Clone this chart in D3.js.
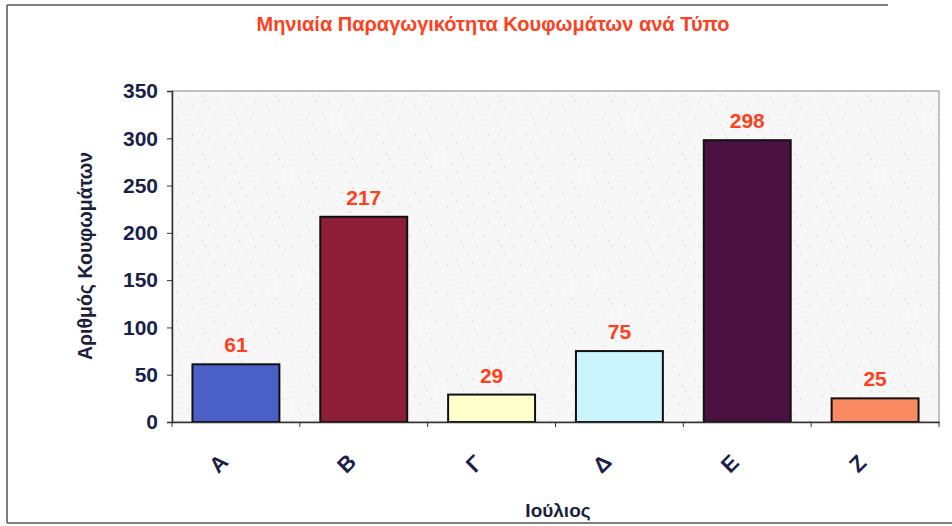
<!DOCTYPE html>
<html>
<head>
<meta charset="utf-8">
<script src="https://cdn.jsdelivr.net/npm/d3@7"></script>
<style>
  body { margin: 0; background: #fff; }
  svg text { font-family: Arial, "Liberation Sans", sans-serif; font-weight: bold; }
</style>
</head>
<body>
<div id="chart"></div>
<script>
const categories = ["Α", "Β", "Γ", "Δ", "Ε", "Ζ"];
const values = [61, 217, 29, 75, 298, 25];
const barColors = ["#4b5fc9", "#8c1f37", "#ffffcc", "#ccf4fd", "#4a1040", "#f98a62"];
const yTicks = [0, 50, 100, 150, 200, 250, 300, 350];

const width = 952, height = 526;
const plot = { left: 172, right: 939, top: 91, bottom: 422 };

const svg = d3.select("#chart").append("svg")
  .attr("width", width)
  .attr("height", height);

// outer frame (partly cut like the scan)
const frame = svg.append("g").attr("stroke", "#555").attr("stroke-width", 1.5);
frame.append("line").attr("x1", 7).attr("y1", 5).attr("x2", 888).attr("y2", 5);
frame.append("line").attr("x1", 7).attr("y1", 5).attr("x2", 7).attr("y2", 523);
frame.append("line").attr("x1", 7).attr("y1", 523).attr("x2", 952).attr("y2", 523);

// speckled background of the plot area
const defs = svg.append("defs");
const pat = defs.append("pattern")
  .attr("id", "granite")
  .attr("patternUnits", "userSpaceOnUse")
  .attr("width", 37).attr("height", 29);
pat.append("rect").attr("width", 37).attr("height", 29).attr("fill", "#f7f7f7");
const dots = [[3, 4], [17, 9], [29, 2], [8, 19], [24, 22], [33, 15], [13, 27], [20, 14]];
pat.selectAll("circle").data(dots).enter().append("circle")
  .attr("cx", d => d[0]).attr("cy", d => d[1]).attr("r", 0.7)
  .attr("fill", "#c8c8c8");

const x = d3.scaleBand()
  .domain(categories)
  .range([plot.left, plot.right])
  .paddingInner(0.32)
  .paddingOuter(0.16);

const y = d3.scaleLinear()
  .domain([0, 350])
  .range([plot.bottom, plot.top]);

svg.append("rect")
  .attr("x", plot.left).attr("y", plot.top)
  .attr("width", plot.right - plot.left).attr("height", plot.bottom - plot.top)
  .attr("fill", "url(#granite)")
  .attr("stroke", "#888").attr("stroke-width", 1);

// title
svg.append("text")
  .attr("x", 493).attr("y", 31)
  .attr("text-anchor", "middle")
  .attr("font-size", 20)
  .attr("fill", "#ff4020")
  .text("Μηνιαία Παραγωγικότητα Κουφωμάτων ανά Τύπο");

// bars
svg.selectAll("rect.bar")
  .data(values)
  .enter().append("rect")
  .attr("class", "bar")
  .attr("x", (d, i) => x(categories[i]))
  .attr("y", d => y(d))
  .attr("width", x.bandwidth())
  .attr("height", d => y(0) - y(d))
  .attr("fill", (d, i) => barColors[i])
  .attr("stroke", "#111")
  .attr("stroke-width", 2);

// value labels
svg.selectAll("text.val")
  .data(values)
  .enter().append("text")
  .attr("class", "val")
  .attr("x", (d, i) => x(categories[i]) + x.bandwidth() / 2)
  .attr("y", d => y(d) - 12)
  .attr("text-anchor", "middle")
  .attr("font-size", 21)
  .attr("fill", "#ff4020")
  .text(d => d);

// y axis
const yAxis = svg.append("g")
  .attr("transform", "translate(" + plot.left + ",0)")
  .call(d3.axisLeft(y).tickValues(yTicks).tickSize(5).tickPadding(9));
yAxis.select(".domain").attr("stroke", "#333").attr("stroke-width", 1.5);
yAxis.selectAll(".tick line").attr("stroke", "#333");
yAxis.selectAll(".tick text")
  .attr("font-size", 21)
  .attr("fill", "#1c1f4a");

// x axis
const xAxis = svg.append("g")
  .attr("transform", "translate(0," + plot.bottom + ")")
  .call(d3.axisBottom(x).tickSize(0).tickFormat(""));
xAxis.select(".domain").attr("stroke", "#333").attr("stroke-width", 1.5);

// tick marks on category boundaries
svg.selectAll("line.xtick")
  .data(d3.range(categories.length + 1))
  .enter().append("line")
  .attr("class", "xtick")
  .attr("x1", i => plot.left + i * (plot.right - plot.left) / categories.length)
  .attr("x2", i => plot.left + i * (plot.right - plot.left) / categories.length)
  .attr("y1", plot.bottom)
  .attr("y2", plot.bottom + 5)
  .attr("stroke", "#333");

// rotated category labels
svg.selectAll("text.cat")
  .data(categories)
  .enter().append("text")
  .attr("class", "cat")
  .attr("transform", d => "translate(" + (x(d) + x.bandwidth() / 2 - 12) + "," + (plot.bottom + 47) + ") rotate(-45)")
  .attr("text-anchor", "middle")
  .attr("font-size", 22)
  .attr("fill", "#1c1f4a")
  .text(d => d);

// axis titles
svg.append("text")
  .attr("transform", "translate(92,256) rotate(-90)")
  .attr("text-anchor", "middle")
  .attr("font-size", 19.5)
  .attr("fill", "#1c1f3a")
  .text("Αριθμός Κουφωμάτων");

svg.append("text")
  .attr("x", 558).attr("y", 517)
  .attr("text-anchor", "middle")
  .attr("font-size", 19)
  .attr("fill", "#1c1f3a")
  .text("Ιούλιος");
</script>
</body>
</html>
